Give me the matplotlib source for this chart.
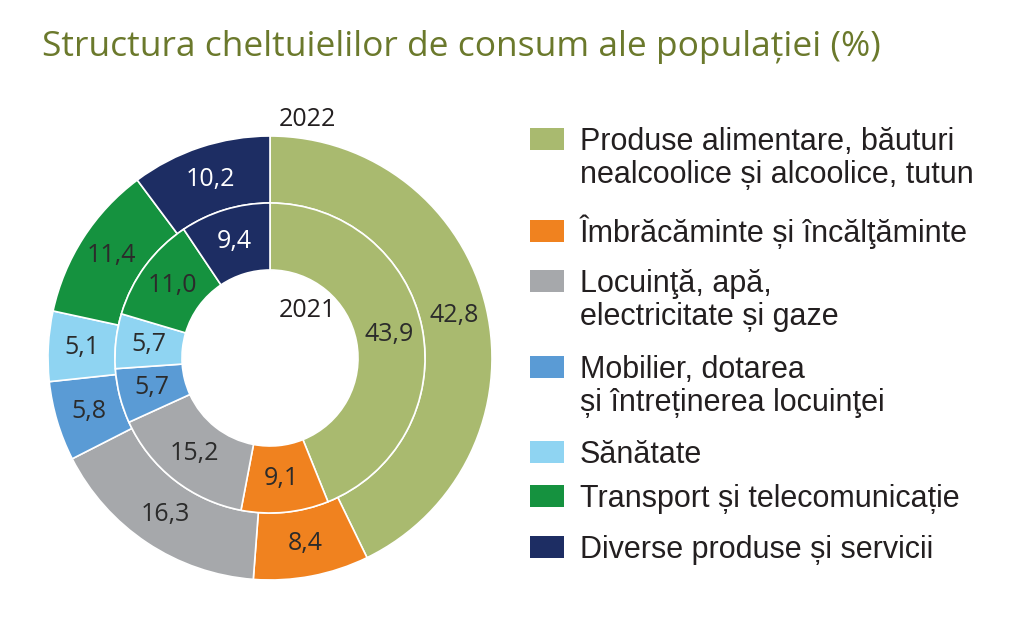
import matplotlib
matplotlib.use("Agg")
import matplotlib.pyplot as plt
from matplotlib.patches import Rectangle
import numpy as np

# ---------------- data ----------------
categories = [
    "Produse alimentare, băuturi\nnealcoolice și alcoolice, tutun",
    "Îmbrăcăminte și încălţăminte",
    "Locuinţă, apă,\nelectricitate și gaze",
    "Mobilier, dotarea\nși întreținerea locuinţei",
    "Sănătate",
    "Transport și telecomunicație",
    "Diverse produse și servicii",
]
values_2022 = [42.8, 8.4, 16.3, 5.8, 5.1, 11.4, 10.2]
values_2021 = [43.9, 9.1, 15.2, 5.7, 5.7, 11.0, 9.4]
year_outer = "2022"
year_inner = "2021"
title = "Structura cheltuielilor de consum ale populației (%)"

# ---------------- style ----------------
colors = ["#A9BA6F", "#F0821F", "#A6A8AB", "#5A9BD5", "#8FD4F2", "#15923F", "#1D2D63"]
label_colors = ["#2b2b2b", "#2b2b2b", "#2b2b2b", "#2b2b2b", "#2b2b2b", "#2b2b2b", "#ffffff"]
title_color = "#6B792C"
text_color = "#231F20"

W, H = 1024, 626
fig = plt.figure(figsize=(W / 100, H / 100), dpi=100)
fig.patch.set_facecolor("white")

# pie axes geometry (pixels)
cx, cy, R = 270, 358, 222
ax = fig.add_axes([(cx - R) / W, (H - cy - R) / H, 2 * R / W, 2 * R / H])
ring_w = 67 / R

def fmt(v):
    return f"{v:.1f}".replace(".", ",")

wedges_out, _ = ax.pie(values_2022, radius=1.0, colors=colors, startangle=90,
                       counterclock=False,
                       wedgeprops=dict(width=ring_w, edgecolor="white", linewidth=1.2))
wedges_in, _ = ax.pie(values_2021, radius=1.0 - ring_w, colors=colors, startangle=90,
                      counterclock=False,
                      wedgeprops=dict(width=ring_w, edgecolor="white", linewidth=1.2))
ax.set_xlim(-1, 1)
ax.set_ylim(-1, 1)
ax.set_aspect("equal")
ax.axis("off")

num_font = dict(family=["Open Sans", "DejaVu Sans"], fontsize=18)
for wedges, vals, rmid in ((wedges_out, values_2022, 1.0 - ring_w / 2),
                           (wedges_in, values_2021, 1.0 - 1.5 * ring_w)):
    for w, v, lc in zip(wedges, vals, label_colors):
        ang = np.deg2rad((w.theta1 + w.theta2) / 2)
        ax.text(rmid * np.cos(ang), rmid * np.sin(ang), fmt(v), ha="center", va="center",
                color=lc, **num_font)

ax.text(0.17, 1.075, year_outer, ha="center", va="center", color=text_color, **num_font)
ax.text(0.167, 0.215, year_inner, ha="center", va="center", color=text_color, **num_font)

# title
fig.text(42 / W, 1 - 47 / H, title, ha="left", va="center", color=title_color,
         family=["Open Sans", "DejaVu Sans"], fontsize=25.5)

# legend (manual)
leg_y = [139, 231, 281, 367, 452, 496, 547]   # square centres, pixels from top
sq_x, sq_w, sq_h = 530, 34, 22
line_px = 33
for lab, col, yc in zip(categories, colors, leg_y):
    fig.patches.append(Rectangle((sq_x / W, 1 - (yc + sq_h / 2) / H), sq_w / W, sq_h / H,
                                 transform=fig.transFigure, facecolor=col, edgecolor="none"))
    lines = lab.split("\n")
    for i, ln in enumerate(lines):
        fig.text(580 / W, 1 - (yc + sq_h / 2 + i * line_px) / H, ln, ha="left", va="baseline",
                 color=text_color, family=["Liberation Sans", "DejaVu Sans"], fontsize=22)

fig.savefig("out.png", dpi=100)
